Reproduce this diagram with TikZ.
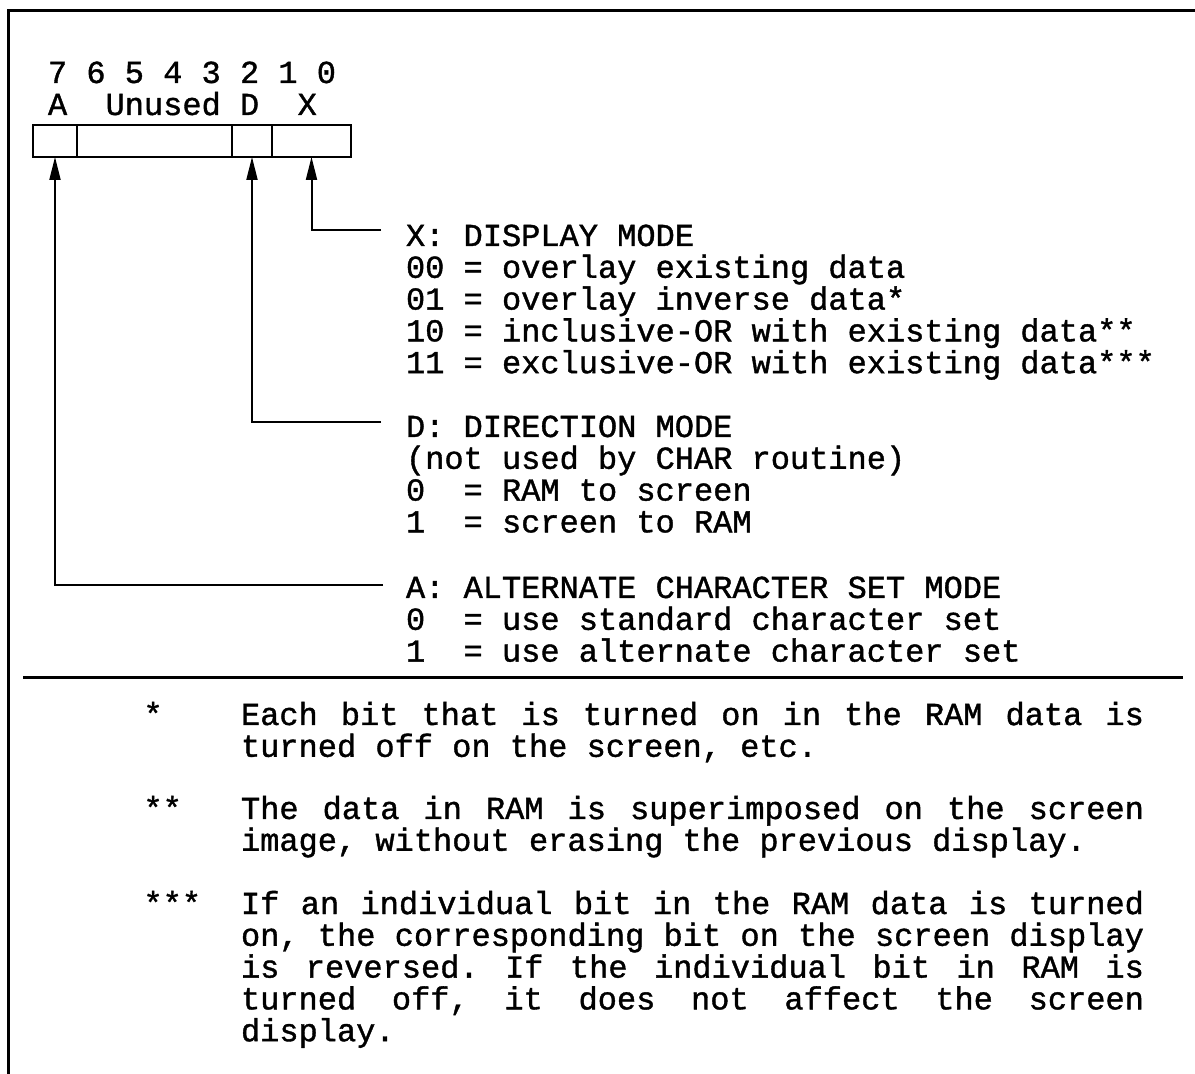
\documentclass[tikz,border=0pt]{standalone}
\usepackage{fontspec}
\setmainfont{Liberation Mono}[FakeBold=1.2]
\usetikzlibrary{arrows.meta,positioning}

% full-width spaces in ragged nodes, stretchable spaces in the justified footnotes
\newcommand\fixspaces{\spaceskip=0pt\xspaceskip=0pt\relax}
\newcommand\stretchspaces{\fontdimen3\font=6pt\fontdimen4\font=0pt\frenchspacing\hyphenpenalty=10000\hbadness=10000\relax}

\tikzset{
  mono/.style={font=\fontsize{16pt}{15.9pt}\selectfont, inner sep=0pt, outer sep=0pt},
  cell/.style={draw, line width=1pt, minimum height=16pt, inner sep=0pt, outer sep=0pt},
  link/.style={line width=1pt, -{Triangle[length=11.5pt,width=5.5pt]}},
  modetext/.style={mono, text width=420pt, align=left, anchor=base west},
  notemark/.style={mono, anchor=base west},
  notetext/.style={mono, text width=451.5pt, align=justify, anchor=base west},
  frame/.style={line width=1.4pt}
}

\begin{document}
\begin{tikzpicture}[x=0.5pt,y=-0.5pt]
  \useasboundingbox (0,0) rectangle (1195,1074);
  \draw[frame] (8.5,1074) -- (8.5,10.5) -- (1195,10.5);

  % bit numbers and field names
  \node[mono, anchor=base west] (bitnums) at (48,83) {7 6 5 4 3 2 1 0};
  \node[mono, anchor=base west] (fields) at (48,115) {A~~Unused~D~~X};

  % register cells
  \node[cell, minimum width=22pt] (cA) at (55,141) {};
  \node[cell, minimum width=77.5pt, right=0pt of cA] (cU) {};
  \node[cell, minimum width=20pt, right=0pt of cU] (cD) {};
  \node[cell, minimum width=39.5pt, right=0pt of cD] (cX) {};

  % mode descriptions
  \node[modetext] (xmode) at (406,246) {\fixspaces X: DISPLAY MODE\\
    00 = overlay existing data\\
    01 = overlay inverse data*\\
    10 = inclusive-OR with existing data**\\
    11 = exclusive-OR with existing data***};
  \node[modetext] (dmode) at (406,437) {\fixspaces D: DIRECTION MODE\\
    (not used by CHAR routine)\\
    0~~= RAM to screen\\
    1~~= screen to RAM};
  \node[modetext] (amode) at (406,598) {\fixspaces A: ALTERNATE CHARACTER SET MODE\\
    0~~= use standard character set\\
    1~~= use alternate character set};

  \coordinate (xtail) at (381,230);
  \coordinate (dtail) at (381,422);
  \coordinate (atail) at (383,585);
  \draw[link] (xtail) -| (cX.south);
  \draw[link] (dtail) -| (cD.south);
  \draw[link] (atail) -| (cA.south);

  % divider
  \coordinate (divl) at (23,677.5);
  \coordinate (divr) at (1183,677.5);
  \draw[line width=1.3pt] (divl) -- (divr);

  % footnotes
  \node[notemark] (m1) at (143.5,725) {*};
  \node[notetext] (n1) at (241,725) {\stretchspaces Each bit that is turned on in the RAM data is\linebreak
    turned off on the screen, etc.};
  \node[notemark] (m2) at (143.5,819) {**};
  \node[notetext] (n2) at (241,819) {\stretchspaces The data in RAM is superimposed on the screen\linebreak
    image, without erasing the previous display.};
  \node[notemark] (m3) at (143.5,914) {***};
  \node[notetext] (n3) at (241,914) {\stretchspaces If an individual bit in the RAM data is turned\linebreak
    on, the corresponding bit on the screen display\linebreak
    is reversed. If the individual bit in RAM is\linebreak
    turned off, it does not affect the screen\linebreak
    display.};
\end{tikzpicture}
\end{document}
